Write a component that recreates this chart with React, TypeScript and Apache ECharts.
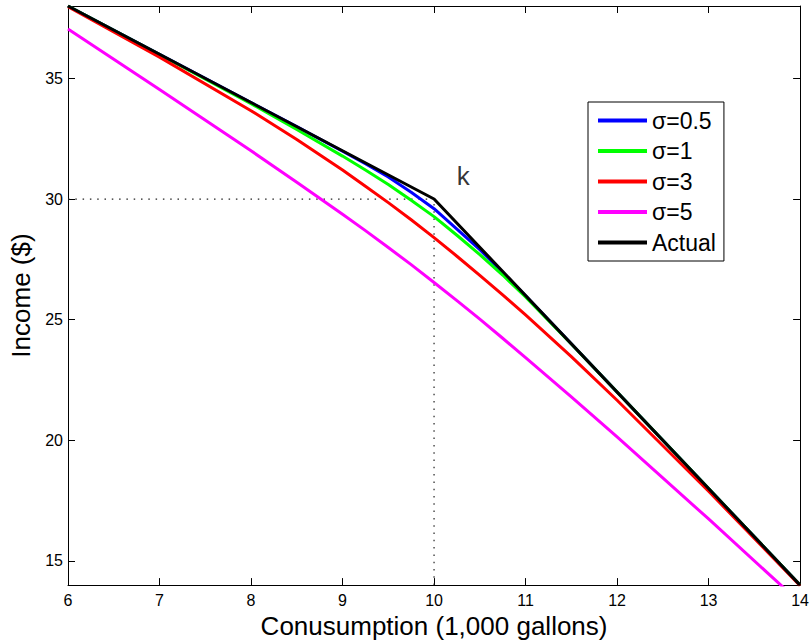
import React, { useEffect, useRef } from "react";
import * as echarts from "echarts";

const xGrid = [6, 7, 8, 8.5, 9, 9.25, 9.5, 9.75, 10, 10.25, 10.5, 10.75, 11, 11.5, 12, 13, 14];
const sigma05 = [38, 36, 34, 33, 31.98, 31.46, 30.91, 30.28, 29.6, 28.75, 27.9, 26.96, 25.99, 24, 22, 18, 14];
const sigma1 = [38, 35.99, 33.95, 32.88, 31.78, 31.2, 30.6, 29.95, 29.27, 28.5, 27.7, 26.85, 25.94, 23.99, 22, 18, 14];
const sigma3 = [37.97, 35.88, 33.66, 32.47, 31.2, 30.53, 29.85, 29.14, 28.4, 27.63, 26.84, 26.03, 25.2, 23.47, 21.66, 17.89, 13.98];
const sigma5 = [37.05, 34.54, 32.0, 30.7, 29.37, 28.69, 27.99, 27.28, 26.54, 25.79, 25.02, 24.23, 23.43, 21.8, 20.14, 16.74, 13.27];
const actualX = [6, 10, 14];
const actualY = [38, 30, 14];
const kinkX = 10;
const kinkY = 30;
const yTicks = [15, 20, 25, 30, 35];
const xMin = 6, xMax = 14, yMin = 14, yMax = 38;
const seriesNames = ["σ=0.5", "σ=1", "σ=3", "σ=5", "Actual"];
const seriesColors = ["#0000FF", "#00FF00", "#FF0000", "#FF00FF", "#000000"];

const FONT = "'Liberation Sans', Arial, Helvetica, sans-serif";

function pair(xs: number[], ys: number[]) {
  return xs.map((x, i) => [x, ys[i]]);
}

export default function App() {
  const ref = useRef<HTMLDivElement>(null);
  useEffect(() => {
    if (!ref.current) return;
    const chart = echarts.init(ref.current, null, { renderer: "svg" });
    const axisCommon = {
      axisLine: { show: true, lineStyle: { color: "#000", width: 1 } },
      axisTick: { show: true, inside: true, length: 7, lineStyle: { color: "#000", width: 1 } },
      splitLine: { show: false },
    };
    const curves = [sigma05, sigma1, sigma3, sigma5];
    const series: any[] = curves.map((ys, i) => ({
      name: seriesNames[i],
      type: "line",
      data: pair(xGrid, ys),
      smooth: false,
      symbol: "none",
      lineStyle: { color: seriesColors[i], width: 3, join: "round" },
      itemStyle: { color: seriesColors[i] },
      z: 3 + i,
    }));
    series.push({
      name: seriesNames[4],
      type: "line",
      data: pair(actualX, actualY),
      symbol: "none",
      lineStyle: { color: seriesColors[4], width: 3 },
      itemStyle: { color: seriesColors[4] },
      z: 8,
    });
    series.push({
      name: "hdot",
      type: "line",
      data: [[xMin, kinkY], [kinkX, kinkY]],
      symbol: "none",
      silent: true,
      lineStyle: { color: "#222", width: 1.2, type: [1.5, 5.8] },
      z: 2,
    });
    series.push({
      name: "vdot",
      type: "line",
      data: [[kinkX, yMin], [kinkX, kinkY]],
      symbol: "none",
      silent: true,
      lineStyle: { color: "#222", width: 1.2, type: [1.5, 5.8] },
      z: 2,
    });
    series.push({
      name: "klabel",
      type: "scatter",
      data: [[10.32, 30.95]],
      symbolSize: 0,
      silent: true,
      label: {
        show: true,
        position: "inside",
        formatter: "k",
        color: "#000",
        fontSize: 26,
        fontFamily: FONT,
      },
      z: 9,
    });

    chart.setOption({
      animation: false,
      backgroundColor: "#fff",
      grid: { left: 68, right: 9, top: 6, bottom: 57, containLabel: false },
      legend: {
        data: seriesNames.map((n) => ({ name: n, icon: "rect" })),
        left: 588,
        top: 102,
        orient: "vertical",
        backgroundColor: "#fff",
        borderColor: "#000",
        borderWidth: 1,
        borderRadius: 0,
        padding: [7, 8, 7, 10],
        itemWidth: 49,
        itemHeight: 4,
        itemGap: 7.5,
        textStyle: { fontSize: 23, fontFamily: FONT, color: "#000", padding: [0, 0, 0, 0] },
        selectedMode: false,
      },
      xAxis: [
        {
          type: "value",
          min: xMin,
          max: xMax,
          interval: 1,
          position: "bottom",
          name: "Conusumption (1,000 gallons)",
          nameLocation: "middle",
          nameGap: 23,
          nameTextStyle: { fontSize: 26, fontFamily: FONT, color: "#000" },
          axisLabel: { fontSize: 16, fontFamily: FONT, color: "#000", margin: 7 },
          ...axisCommon,
        },
        {
          type: "value",
          min: xMin,
          max: xMax,
          interval: 1,
          position: "top",
          axisLabel: { show: false },
          ...axisCommon,
        },
      ],
      yAxis: [
        {
          type: "value",
          min: yMin,
          max: yMax,
          position: "left",
          name: "Income ($)",
          nameLocation: "middle",
          nameRotate: 90,
          nameGap: 32,
          nameTextStyle: { fontSize: 26, fontFamily: FONT, color: "#000" },
          axisLabel: { fontSize: 16, fontFamily: FONT, color: "#000", margin: 5, customValues: yTicks },
          ...axisCommon,
          axisTick: { ...axisCommon.axisTick, customValues: yTicks },
        },
        {
          type: "value",
          min: yMin,
          max: yMax,
          position: "right",
          axisLabel: { show: false, customValues: yTicks },
          ...axisCommon,
          axisTick: { ...axisCommon.axisTick, customValues: yTicks },
        },
      ],
      series,
    });
    return () => chart.dispose();
  }, []);
  return (
    <div
      ref={ref}
      style={{ position: "absolute", left: 0, top: 0, width: 812, height: 644, background: "#fff" }}
    />
  );
}
